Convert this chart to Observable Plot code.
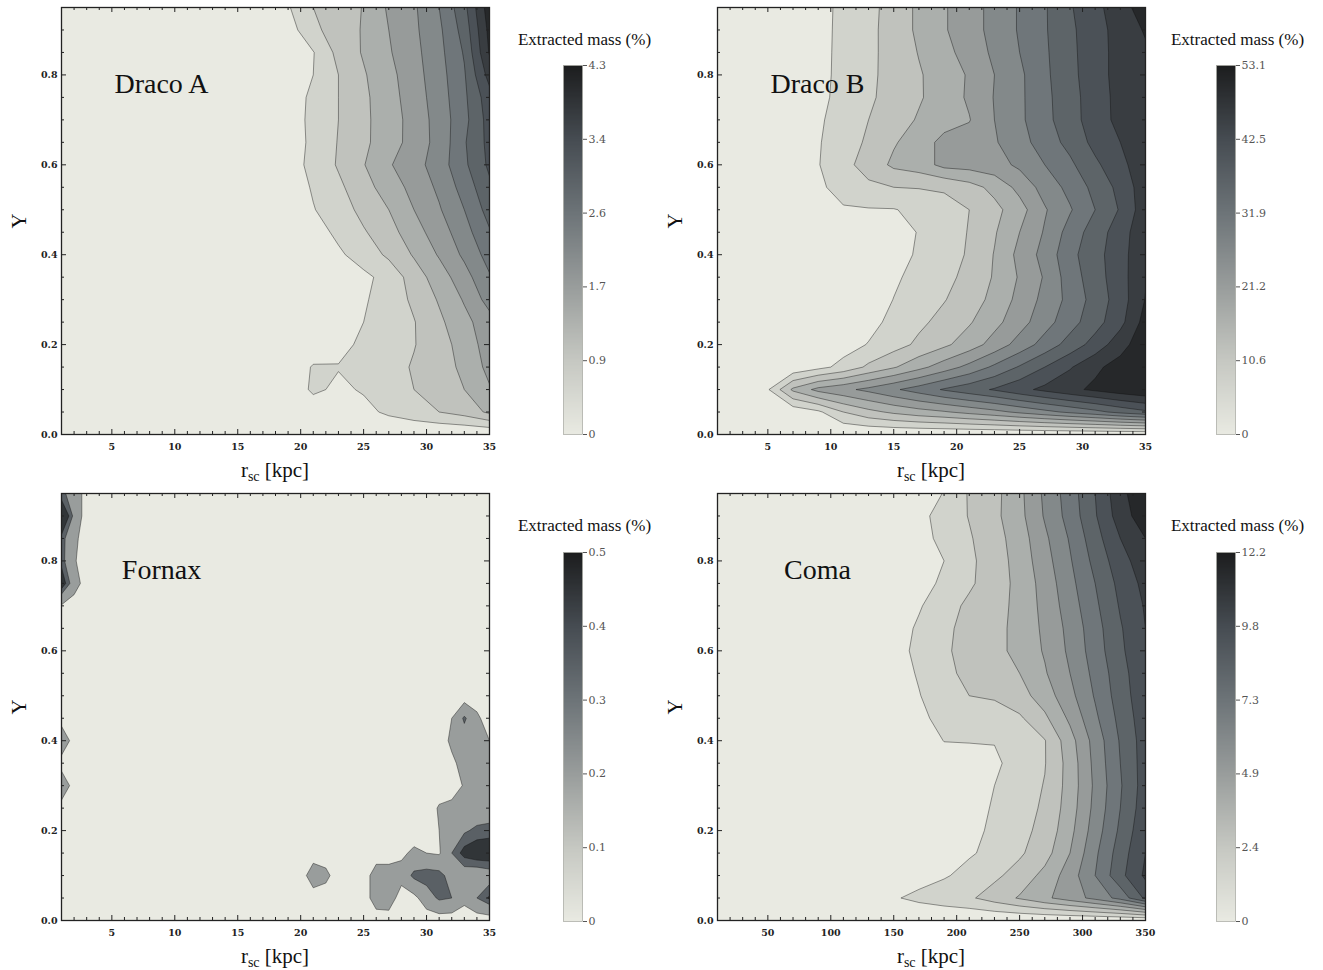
<!DOCTYPE html>
<html>
<head>
<meta charset="utf-8">
<script src="https://cdn.jsdelivr.net/npm/d3@7"></script>
<script src="https://cdn.jsdelivr.net/npm/@observablehq/plot@0.6"></script>
<style>
  body { margin: 0; background: #fff; }
  #root { position: relative; width: 1323px; height: 970px; overflow: hidden; font-family: "Liberation Serif", "DejaVu Serif", serif; color: #111; }
  #root > * { position: absolute; }
  .xlab { width: 200px; text-align: center; font-size: 21px; line-height: 21px; white-space: nowrap; }
  .xlab .sub { font-size: 14px; position: relative; top: 4px; }
  .ylab { width: 40px; height: 24px; text-align: center; font-size: 21px; line-height: 24px; transform: rotate(-90deg); }
  .cbtitle { width: 220px; text-align: center; font-size: 17px; line-height: 17px; white-space: nowrap; }
</style>
</head>
<body>
<div id="root"></div>
<script>
// ---------------- grids (sample coordinates) ----------------
const yGrid = [0.95, 0.9, 0.85, 0.8, 0.75, 0.7, 0.65, 0.6, 0.55, 0.5, 0.45, 0.4, 0.35, 0.3, 0.25, 0.2, 0.15, 0.1, 0.05, 0];
const xGridDraco = [1, 3, 5, 7, 9, 11, 13, 15, 17, 19, 21, 23, 25, 27, 29, 31, 33, 35];
const xGridComa = [10, 30, 50, 70, 90, 110, 130, 150, 170, 190, 210, 230, 250, 270, 290, 310, 330, 350];
const xGridFornax = [1, 2, 3, 4, 5, 6, 7, 8, 9, 10, 11, 12, 13, 14, 15, 16, 17, 18, 19, 20, 21, 22, 23, 24, 25, 26, 27, 28, 29, 30, 31, 32, 33, 34, 35];

// ---------------- colour-bar maxima and tick labels ----------------
const dracoAMax = 4.3, dracoBMax = 53.1, fornaxMax = 0.5, comaMax = 12.2;
const xTicksKpc = [5, 10, 15, 20, 25, 30, 35];
const xTicksComa = [50, 100, 150, 200, 250, 300, 350];
const yTicks = [0, 0.2, 0.4, 0.6, 0.8];
const barTickFractions = [0, 0.2, 0.4, 0.6, 0.8, 1];

// Extracted mass, in contour-band units (1 band = max / 11 %), rows from Y = 0.95 down to Y = 0
const dracoABands = [
  [0,0,0,0,0,0,0,0,0,0.9,2.0,2.5,3.05,4.15,4.85,6.0,7.7,10.6],
  [0,0,0,0,0,0,0,0,0,0.5,1.8,2.4,3.1,4.0,4.8,5.8,7.4,10.3],
  [0,0,0,0,0,0,0,0,0,0.3,0.95,2.3,3.1,3.9,4.7,5.7,7.1,10.1],
  [0,0,0,0,0,0,0,0,0,0.4,1.0,2.0,2.9,3.7,4.6,5.6,6.9,9.4],
  [0,0,0,0,0,0,0,0,0,0.5,1.2,2.0,2.8,3.6,4.5,5.5,6.8,8.6],
  [0,0,0,0,0,0,0,0,0,0.5,1.25,2.0,2.8,3.5,4.4,5.4,6.7,8.4],
  [0,0,0,0,0,0,0,0,0,0.4,1.25,2.05,2.85,3.4,4.5,5.3,6.9,8.3],
  [0,0,0,0,0,0,0,0,0,0.5,1.3,2.1,2.95,3.9,4.6,5.5,6.8,8.2],
  [0,0,0,0,0,0,0,0,0,0.4,1.1,1.8,2.6,3.5,4.3,5.2,6.4,7.8],
  [0,0,0,0,0,0,0,0,0,0.2,0.95,1.5,2.3,3.0,4.0,4.9,6.0,7.4],
  [0,0,0,0,0,0,0,0,0,0,0.6,1.2,1.9,2.6,3.6,4.5,5.6,6.9],
  [0,0,0,0,0,0,0,0,0,0,0.4,0.85,1.4,2.2,3.1,4.1,5.2,6.4],
  [0,0,0,0,0,0,0,0,0,0,0.2,0.5,0.8,1.3,2.5,3.5,4.6,5.9],
  [0,0,0,0,0,0,0,0,0,0,0.2,0.5,0.9,1.4,2.2,3.1,4.1,5.4],
  [0,0,0,0,0,0,0,0,0,0,0.2,0.6,1.0,1.5,1.95,2.8,3.7,4.6],
  [0,0,0,0,0,0,0,0,0,0,0.3,0.7,1.2,1.6,1.95,2.6,3.4,4.5],
  [0,0,0,0,0,0,0,0,0,0.2,1.1,1.05,1.1,1.6,2.1,2.6,3.2,4.3],
  [0,0,0,0,0,0,0,0,0,0.2,1.2,0.8,1.1,1.5,2.0,2.5,3.0,3.9],
  [0,0,0,0,0,0,0,0,0,0,0.3,0.9,0.7,1.2,1.6,2.0,2.4,3.2],
  [0,0,0,0,0,0,0,0,0,0,0,0,0,0,0,0,0,0]
];

const dracoBBands = [
  [0,0,0,0,0.72,1.2,1.7,2.4,3.2,3.9,4.6,5.3,6.1,6.9,7.9,8.7,9.6,10.5],
  [0,0,0,0,0.72,1.22,1.75,2.4,3.2,3.9,4.6,5.3,6.1,6.9,7.8,8.6,9.4,10.1],
  [0,0,0,0,0.72,1.24,1.78,2.35,3.05,3.7,4.4,5.2,6.0,6.85,7.75,8.6,9.35,9.85],
  [0,0,0,0,0.72,1.26,1.8,2.34,2.9,3.5,4.1,5.0,5.8,6.8,7.7,8.6,9.35,9.8],
  [0,0,0,0,0.75,1.3,1.85,2.35,2.9,3.45,4.15,5.05,5.8,6.75,7.6,8.55,9.3,9.7],
  [0,0,0,0,0.85,1.44,2.0,2.55,3.1,3.6,3.95,5.0,5.8,6.7,7.6,8.5,9.3,9.7],
  [0,0,0,0,0.92,1.55,2.15,2.9,3.5,4.3,4.4,4.9,5.6,6.5,7.3,8.3,9.0,9.75],
  [0,0,0,0,0.95,1.7,2.4,3.2,3.5,4.3,4.4,4.6,5.2,6.0,6.8,7.8,8.7,9.7],
  [0,0,0,0,0.85,1.3,1.8,2.0,2.05,2.1,2.6,3.3,4.3,5.4,6.3,7.3,8.3,9.6],
  [0,0,0,0,0.75,0.92,0.93,0.95,1.25,1.7,2.0,2.7,3.6,4.9,5.9,7.0,8.1,9.6],
  [0,0,0,0,0,0.3,0.5,0.6,1.05,1.55,2.05,2.9,4.0,5.1,6.4,7.5,8.5,9.8],
  [0,0,0,0,0,0.2,0.4,0.7,1.1,1.6,2.1,3.05,4.3,5.35,6.7,7.65,8.6,9.85],
  [0,0,0,0,0,0.2,0.45,0.85,1.3,1.75,2.25,3.1,4.1,5.1,6.5,7.55,8.6,9.9],
  [0,0,0,0,0,0.25,0.5,1.02,1.5,1.95,2.5,3.3,4.3,5.3,6.3,7.4,8.5,10.05],
  [0,0,0,0,0,0.35,0.7,1.25,1.8,2.3,2.9,3.7,4.6,5.6,6.6,7.6,8.7,10.4],
  [0,0,0,0,0.3,0.6,1.05,1.6,2.2,2.8,3.5,4.4,5.4,6.4,7.4,8.4,9.6,10.7],
  [0,0,0,0.2,0.7,1.3,2.2,2.9,3.7,4.5,5.3,6.2,7.1,8.0,8.9,9.8,10.4,10.9],
  [0,0,0.9,3.2,4.3,4.75,5.25,5.85,6.45,7.1,7.6,8.1,8.7,9.25,9.75,10.2,10.6,10.9],
  [0,0,0,0.3,0.8,2.0,2.7,3.2,3.6,3.9,4.3,4.7,5.2,5.7,6.2,6.7,7.3,7.8],
  [0,0,0,0,0,0,0,0,0,0,0,0,0,0,0,0,0,0]
];

const comaBands = [
  [0,0,0,0,0,0,0,0,0.4,1.05,2.1,2.7,3.75,5.2,6.5,8.0,9.7,10.8],
  [0,0,0,0,0,0,0,0,0.7,1.4,2.05,2.75,3.7,5.1,6.4,7.9,9.5,10.6],
  [0,0,0,0,0,0,0,0,0.6,1.3,1.9,2.6,3.5,4.8,6.1,7.6,9.0,10.0],
  [0,0,0,0,0,0,0,0,0.5,1.0,1.8,2.5,3.4,4.6,5.9,7.3,8.6,9.6],
  [0,0,0,0,0,0,0,0,0.6,1.2,1.85,2.5,3.3,4.4,5.7,7.0,8.3,9.3],
  [0,0,0,0,0,0,0,0.3,0.9,1.6,2.2,2.6,3.3,4.3,5.5,6.8,8.1,9.1],
  [0,0,0,0,0,0,0,0.5,1.15,1.8,2.3,2.7,3.3,4.2,5.3,6.6,7.9,9.0],
  [0,0,0,0,0,0,0,0.6,1.25,1.85,2.35,2.7,3.3,4.1,5.2,6.5,7.8,8.9],
  [0,0,0,0,0,0,0,0.5,1.1,1.75,2.25,2.5,3.0,3.9,5.0,6.3,7.6,8.8],
  [0,0,0,0,0,0,0,0.3,0.95,1.6,2.0,2.1,2.6,3.5,4.7,6.1,7.5,8.7],
  [0,0,0,0,0,0,0,0.2,0.85,1.2,1.4,1.6,1.85,2.8,4.2,5.8,7.3,8.6],
  [0,0,0,0,0,0,0,0,0.5,1.02,1.03,1.05,1.5,1.95,3.6,5.4,7.1,8.5],
  [0,0,0,0,0,0,0,0,0.3,0.6,0.75,0.8,1.45,1.95,3.4,5.3,7.0,8.5],
  [0,0,0,0,0,0,0,0,0.3,0.6,0.8,1.0,1.5,2.05,3.4,5.2,6.9,8.5],
  [0,0,0,0,0,0,0,0,0.3,0.6,0.8,1.05,1.6,2.15,3.5,5.3,7.0,8.6],
  [0,0,0,0,0,0,0,0,0.3,0.6,0.85,1.1,1.7,2.3,3.7,5.5,7.2,8.8],
  [0,0,0,0,0,0,0,0,0.4,0.6,0.9,1.25,1.85,2.6,4.0,5.8,7.5,9.0],
  [0,0,0,0,0,0,0,0.2,0.6,0.9,1.3,1.8,2.4,3.3,4.5,6.0,7.7,9.2],
  [0,0,0,0,0,0,0,0.9,1.25,1.55,1.85,2.45,3.1,3.8,4.5,5.3,6.35,8.2],
  [0,0,0,0,0,0,0,0,0,0,0,0,0,0,0,0,0,0]
];

// Fornax: the few non-zero samples (x in kpc, Y, extracted mass in %); everything else is 0
const fornaxX = [1,2,1,2,1,2,1,2,1,2,1,1,1,21,22,26,27,26,27,28,29,30,31,28,29,30,31,32,33,34,35,29,30,31,32,33,34,35,32,33,34,32,33,34,35,32,33,34,35,33,34,35,31,32,33,34,35,31,32,33,34,35,32,33,34,35];
const fornaxY = [0.95,0.95,0.9,0.9,0.85,0.85,0.8,0.8,0.75,0.75,0.7,0.4,0.3,0.1,0.1,0.1,0.1,0.05,0.05,0.15,0.15,0.15,0.15,0.1,0.1,0.1,0.1,0.1,0.1,0.1,0.1,0.05,0.05,0.05,0.05,0.05,0.05,0.05,0.45,0.45,0.45,0.4,0.4,0.4,0.4,0.35,0.35,0.35,0.35,0.3,0.3,0.3,0.25,0.25,0.25,0.25,0.25,0.2,0.2,0.2,0.2,0.2,0.15,0.15,0.15,0.15];
const fornaxV = [0.32,0.26,0.6,0.26,0.36,0.15,0.36,0.12,0.5,0.2,0.08,0.28,0.28,0.22,0.15,0.2,0.2,0.2,0.22,0.06,0.14,0.1,0.08,0.18,0.34,0.38,0.36,0.22,0.2,0.18,0.22,0.05,0.2,0.33,0.3,0.15,0.3,0.42,0.1,0.33,0.14,0.14,0.2,0.18,0.1,0.06,0.17,0.2,0.18,0.12,0.2,0.2,0.12,0.16,0.2,0.2,0.2,0.1,0.22,0.28,0.33,0.35,0.3,0.45,0.5,0.5];
const fornaxLevels = [0.1, 0.3, 0.4];

// ---------------- colours ----------------
const shadeStops = ["#e9eae2", "#c6c8c2", "#999d9c", "#6d7478", "#464c52", "#1c1d1e"];
const cmap = d3.piecewise(d3.interpolateRgb, shadeStops);

// ---------------- tables built from the arrays ----------------
const bandCount = 11;
const toPercent = (bands, max) => bands.map(row => row.map(v => v * max / bandCount));
const evenLevels = max => d3.range(1, bandCount).map(k => k * max / bandCount);

const fornaxGrid = yGrid.map(() => xGridFornax.map(() => 0));
fornaxX.forEach((x, i) => {
  const r = yGrid.findIndex(y => Math.abs(y - fornaxY[i]) < 1e-9);
  const c = xGridFornax.indexOf(x);
  fornaxGrid[r][c] = fornaxV[i];
});

const minorKpc = d3.range(1, 36).filter(v => v % 5 !== 0);
const minorComa = d3.range(10, 351, 10).filter(v => v % 50 !== 0);
const minorY = d3.range(1, 20).filter(k => k % 4 !== 0).map(k => k * 0.05);

const panels = [
  {name: "Draco A", grid: toPercent(dracoABands, dracoAMax), xs: xGridDraco, max: dracoAMax, levels: evenLevels(dracoAMax), xDomain: [1, 35], xMajor: xTicksKpc, xMinor: minorKpc, left: 0, top: 0, barLeft: 563, barTop: 65},
  {name: "Draco B", grid: toPercent(dracoBBands, dracoBMax), xs: xGridDraco, max: dracoBMax, levels: evenLevels(dracoBMax), xDomain: [1, 35], xMajor: xTicksKpc, xMinor: minorKpc, left: 656, top: 0, barLeft: 1216, barTop: 65},
  {name: "Fornax", grid: fornaxGrid, xs: xGridFornax, max: fornaxMax, levels: fornaxLevels, xDomain: [1, 35], xMajor: xTicksKpc, xMinor: minorKpc, left: 0, top: 486, barLeft: 563, barTop: 552},
  {name: "Coma", grid: toPercent(comaBands, comaMax), xs: xGridComa, max: comaMax, levels: evenLevels(comaMax), xDomain: [10, 350], xMajor: xTicksComa, xMinor: minorComa, left: 656, top: 486, barLeft: 1216, barTop: 552}
];

// ---------------- drawing ----------------
const FW = 428, FH = 427, ML = 61, MT = 7;
const root = document.getElementById("root");
function place(node, left, top) { node.style.left = left + "px"; node.style.top = top + "px"; root.append(node); }

function contourPlot(p) {
  const nx = p.xs.length, ny = yGrid.length;
  const hx = (p.xs[1] - p.xs[0]) / 2, hy = (yGrid[0] - yGrid[1]) / 2;
  const shades = p.levels.map((t, i) => cmap(((t + (i + 1 < p.levels.length ? p.levels[i + 1] : p.max)) / 2) / p.max));
  const tk = {stroke: "#222", strokeWidth: 1};
  return Plot.plot({
    width: ML + FW + 11, height: MT + FH + 26,
    marginLeft: ML, marginRight: 11, marginTop: MT, marginBottom: 26,
    x: {domain: p.xDomain},
    y: {domain: [0, 0.95]},
    color: {type: "ordinal", domain: p.levels, range: shades},
    style: {fontFamily: "DejaVu Serif", fontSize: "9.5px", fontWeight: "bold", color: "#222", background: "transparent", overflow: "visible"},
    marks: [
      Plot.frame({fill: cmap(0), stroke: "none"}),
      Plot.contour(p.grid.flat(), {
        width: nx, height: ny,
        x1: p.xs[0] - hx, x2: p.xs[nx - 1] + hx,
        y1: yGrid[0] + hy, y2: yGrid[ny - 1] - hy,
        fill: Plot.identity, thresholds: p.levels,
        stroke: "#111", strokeOpacity: 0.5, strokeWidth: 0.85, clip: true
      }),
      Plot.tickX(p.xMinor, {x: d => d, insetTop: FH - 3, ...tk}),
      Plot.tickX(p.xMajor, {x: d => d, insetTop: FH - 5, ...tk}),
      Plot.tickX(p.xMinor, {x: d => d, insetBottom: FH - 3, ...tk}),
      Plot.tickX(p.xMajor, {x: d => d, insetBottom: FH - 5, ...tk}),
      Plot.tickY(minorY, {y: d => d, insetRight: FW - 3, ...tk}),
      Plot.tickY(yTicks, {y: d => d, insetRight: FW - 5, ...tk}),
      Plot.tickY(minorY, {y: d => d, insetLeft: FW - 3, ...tk}),
      Plot.tickY(yTicks, {y: d => d, insetLeft: FW - 5, ...tk}),
      Plot.frame({stroke: "#222", strokeWidth: 1.3}),
      Plot.axisX({ticks: p.xMajor, tickSize: 0, tickPadding: 9, label: null}),
      Plot.axisY({ticks: yTicks, tickSize: 0, tickPadding: 4, tickFormat: d3.format(".1f"), label: null}),
      Plot.text([p.name], {text: d => d, frameAnchor: "top-left", dx: 100, dy: 66, textAnchor: "middle", fontSize: 28, fontFamily: "Liberation Serif", fontWeight: "normal", fill: "#111"})
    ]
  });
}

function colorBar(p) {
  const BW = 19, BH = 369;
  return Plot.plot({
    width: 10 + BW + 50, height: 10 + BH + 10,
    marginLeft: 10, marginRight: 50, marginTop: 10, marginBottom: 10,
    x: {domain: [0, 1], axis: null},
    y: {domain: [0, p.max]},
    color: {type: "linear", domain: [0, p.max], interpolate: cmap},
    style: {fontFamily: "DejaVu Serif", fontSize: "11px", background: "transparent"},
    marks: [
      Plot.raster({x1: 0, x2: 1, y1: 0, y2: p.max, width: 1, height: 300, fill: (x, y) => y, imageRendering: "auto"}),
      Plot.frame({stroke: "#a4a59f", strokeWidth: 0.7}),
      Plot.axisY({anchor: "right", ticks: barTickFractions.map(f => f * p.max), tickSize: 4, tickPadding: 2,
        tickFormat: v => v === 0 ? "0" : v.toFixed(1), color: "#555", label: null})
    ]
  });
}

for (const p of panels) {
  place(contourPlot(p), p.left, p.top);
  place(colorBar(p), p.barLeft - 10, p.barTop - 10);

  const t = document.createElement("div");
  t.className = "cbtitle";
  t.textContent = "Extracted mass (%)";
  place(t, p.barLeft + 9.5 + 12 - 110, p.top + 45 - 14);

  const xl = document.createElement("div");
  xl.className = "xlab";
  xl.innerHTML = 'r<span class="sub">sc</span> [kpc]';
  place(xl, p.left + ML + FW / 2 - 100, p.top + MT + FH + 43 - 17.5);

  const yl = document.createElement("div");
  yl.className = "ylab";
  yl.textContent = "Y";
  place(yl, p.left + 19 - 20, p.top + MT + FH / 2 - 12);
}
</script>
</body>
</html>
